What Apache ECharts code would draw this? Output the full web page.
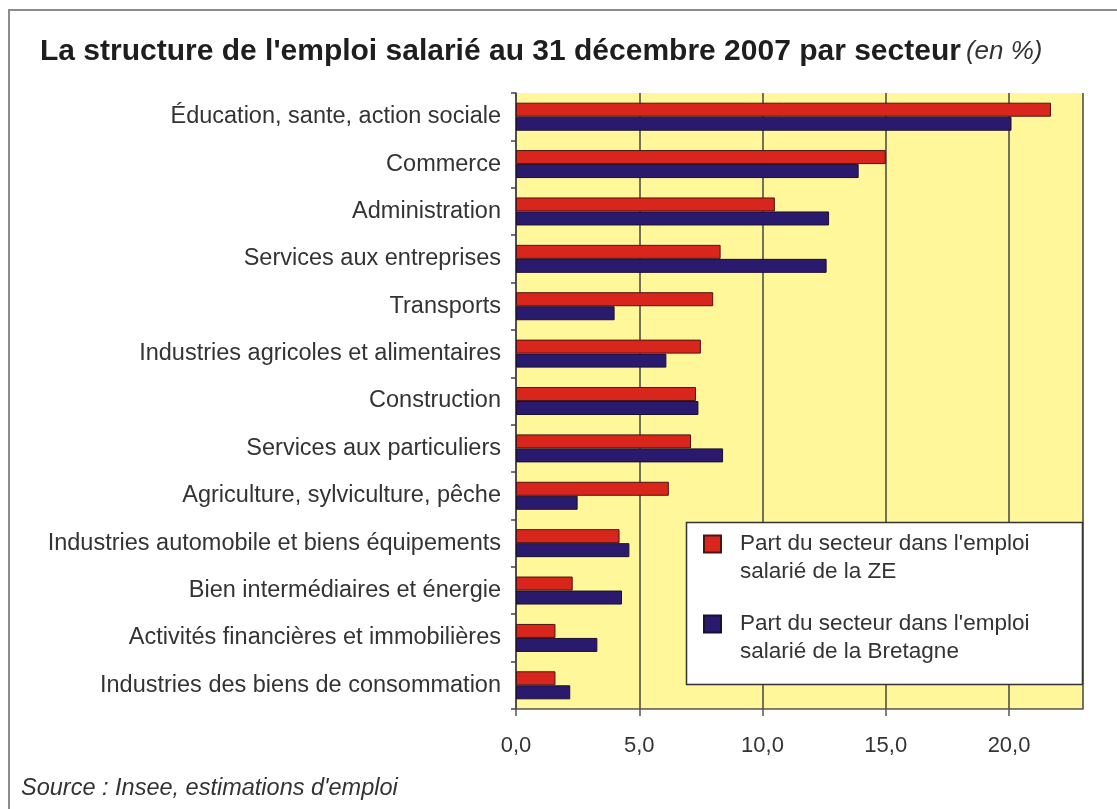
<!DOCTYPE html>
<html>
<head>
<meta charset="utf-8">
<script src="https://cdn.jsdelivr.net/npm/echarts@6/dist/echarts.min.js"></script>
<style>
  html, body { margin: 0; padding: 0; background: #fff; }
  #chart { width: 1117px; height: 809px; }
</style>
</head>
<body>
<div id="chart"></div>
<script>
// secteurs, du haut vers le bas
var secteurs = [
  'Éducation, sante, action sociale',
  'Commerce',
  'Administration',
  'Services aux entreprises',
  'Transports',
  'Industries agricoles et alimentaires',
  'Construction',
  'Services aux particuliers',
  'Agriculture, sylviculture, pêche',
  'Industries automobile et biens équipements',
  'Bien intermédiaires et énergie',
  'Activités financières et immobilières',
  'Industries des biens de consommation'
];
// part dans l'emploi salarié (en %)
var partZE = [21.7, 15.0, 10.5, 8.3, 8.0, 7.5, 7.3, 7.1, 6.2, 4.2, 2.3, 1.6, 1.6];
var partBretagne = [20.1, 13.9, 12.7, 12.6, 4.0, 6.1, 7.4, 8.4, 2.5, 4.6, 4.3, 3.3, 2.2];

var nomZE = "Part du secteur dans l'emploi\nsalarié de la ZE";
var nomBretagne = "Part du secteur dans l'emploi\nsalarié de la Bretagne";

var font = '"Liberation Sans", Arial, sans-serif';
var myChart = echarts.init(document.getElementById('chart'));

var option = {
  animation: false,
  textStyle: { fontFamily: font },
  title: {
    left: 35,
    top: 32,
    text: "{b|La structure de l'emploi salarié au 31 décembre 2007 par secteur} {i|(en %)}",
    textStyle: {
      rich: {
        b: { fontSize: 30, fontWeight: 'bold', color: '#1e1e1e', fontFamily: font },
        i: { fontSize: 26, fontWeight: 'normal', fontStyle: 'italic', color: '#333', fontFamily: font }
      }
    }
  },
  grid: {
    left: 516,
    right: 34,
    top: 93,
    bottom: 100,
    show: true,
    backgroundColor: '#FFF799',
    borderWidth: 0
  },
  legend: {
    orient: 'vertical',
    left: 703,
    top: 502,
    padding: 0,
    itemGap: -4,
    itemWidth: 17,
    itemHeight: 17,
    selectedMode: false,
    z: 20,
    // ligne vide en tête pour caler le carré sur la première ligne
    formatter: function (name) { return ' \n' + name; },
    textStyle: {
      fontSize: 22.5,
      lineHeight: 28,
      color: '#333',
      padding: [0, 0, 0, 14]
    },
    data: [
      { name: nomZE, icon: 'rect' },
      { name: nomBretagne, icon: 'rect' }
    ]
  },
  graphic: [
    {
      type: 'rect',
      z: 10,
      shape: { x: 686.5, y: 522.5, width: 396, height: 162 },
      style: { fill: '#fff', stroke: '#333', lineWidth: 1.5 }
    },
    {
      type: 'rect',
      z: 0,
      shape: { x: 9, y: 10, width: 1120, height: 820 },
      style: { fill: 'none', stroke: '#8c8c8c', lineWidth: 2 }
    },
    {
      type: 'text',
      left: 21,
      top: 777,
      style: {
        text: "Source : Insee, estimations d'emploi",
        fontSize: 23.5,
        fontStyle: 'italic',
        fill: '#333',
        fontFamily: font
      }
    }
  ],
  xAxis: {
    type: 'value',
    min: 0,
    max: 23,
    interval: 5,
    axisLine: { show: true, lineStyle: { color: '#555', width: 1.5 } },
    axisTick: { show: true, length: 7, lineStyle: { color: '#555', width: 1.5 } },
    axisLabel: {
      fontSize: 22,
      color: '#333',
      margin: 26,
      showMaxLabel: false,
      formatter: function (v) { return v.toFixed(1).replace('.', ','); }
    },
    splitLine: { show: true, lineStyle: { color: '#444', width: 1.5 } }
  },
  yAxis: {
    type: 'category',
    inverse: true,
    data: secteurs,
    axisLine: { show: true, lineStyle: { color: '#444', width: 1.5 } },
    axisTick: { show: true, length: 5, lineStyle: { color: '#444', width: 1.5 } },
    axisLabel: { fontSize: 23.5, color: '#333', margin: 15, padding: [5, 0, 0, 0] }
  },
  series: [
    {
      name: nomZE,
      type: 'bar',
      data: partZE,
      barWidth: 14,
      barGap: '0%',
      itemStyle: { color: '#D9261C', borderColor: '#4a1512', borderWidth: 1 }
    },
    {
      name: nomBretagne,
      type: 'bar',
      data: partBretagne,
      barWidth: 14,
      barGap: '0%',
      itemStyle: { color: '#2A1A6E', borderColor: '#1a1030', borderWidth: 1 }
    }
  ]
};
myChart.setOption(option);
</script>
</body>
</html>
